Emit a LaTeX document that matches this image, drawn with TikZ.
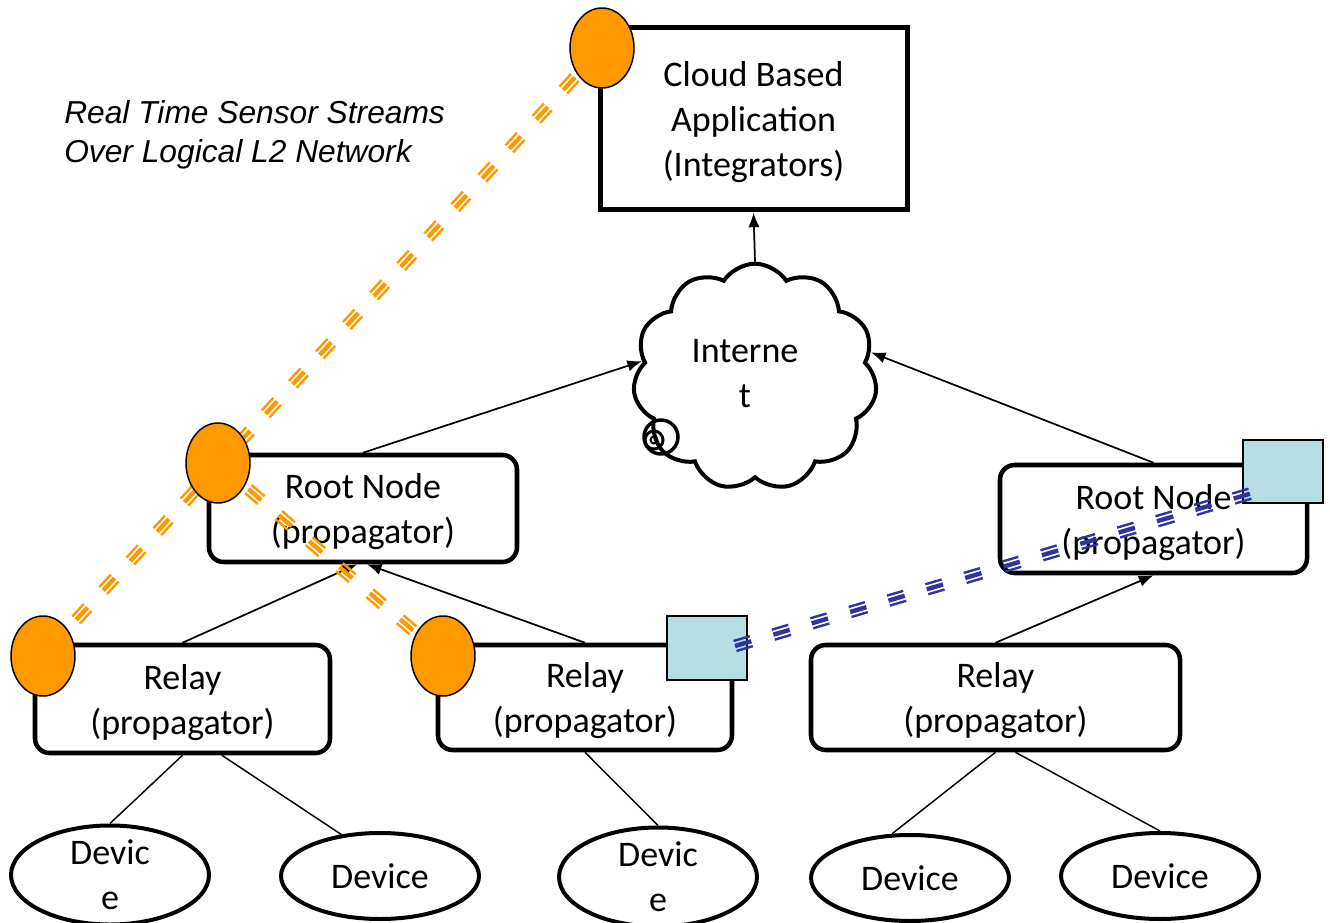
\documentclass[tikz,border=0pt]{standalone}
\usepackage{fontspec}
\setmainfont{Carlito}
\newfontfamily\arialfam{Liberation Sans}
\usetikzlibrary{shapes.geometric,shapes.symbols,arrows.meta,calc}
\definecolor{orng}{RGB}{255,153,0}
\definecolor{indig}{RGB}{51,51,160}
\definecolor{tealsq}{RGB}{183,222,226}
\newcommand\mytxt{\fontsize{27}{33.75}\selectfont}
% triple striped dashed line: colour, from, to
\newcommand\tripleline[3]{%
  \draw[stripe, #1, line width=3.3pt] (#2) -- (#3);
  \foreach \o in {-3.9pt,3.9pt}{%
    \draw[stripe, #1, line width=1.8pt] ($(#2)!\o!90:(#3)$) -- ($(#3)!\o!-90:(#2)$);}}
% box with its text set a little lower
\newcommand\txtbox[6]{%
  \node[#1, minimum width=#4, minimum height=#5] (#2) at (#3) {};
  \node[txt] (#2t) at ([yshift=-2.4pt]#2.center) {#6};}
\begin{document}
\begin{tikzpicture}[x=0.75pt,y=-0.75pt,
  txt/.style={inner sep=0pt, align=center, font=\mytxt},
  appbox/.style={draw, line width=3.75pt, inner sep=0pt},
  rbox/.style={draw, line width=3.4pt, rounded corners=11pt, inner sep=0pt},
  dev/.style={ellipse, draw, line width=3pt, minimum width=148.5pt, minimum height=64.5pt, inner sep=0pt, align=center, font=\mytxt},
  oc/.style={ellipse, draw, line width=1.1pt, fill=orng, minimum width=48pt, minimum height=60pt, inner sep=0pt},
  sqr/.style={rectangle, draw, line width=1.1pt, fill=tealsq, minimum width=60pt, minimum height=48pt, inner sep=0pt},
  arr/.style={line width=1.3pt, -{Latex[length=11pt,width=8.5pt]}},
  ln/.style={line width=1.1pt},
  stripe/.style={dash pattern=on 12.75pt off 17.25pt},
]
\fill[white] (0,0) rectangle (1330,923);
\useasboundingbox (0,0) rectangle (1330,923);

\txtbox{appbox}{app}{753.5,119}{230.25pt}{136.5pt}{Cloud Based\\Application\\(Integrators)}
\node[cloud, draw, line width=3pt, cloud puffs=11, cloud puff arc=115, cloud ignores aspect,
      minimum width=183pt, minimum height=170pt, inner sep=0pt] (cloud) at (755,377) {};
\node[txt] (cloudt) at (745,374) {Interne\\t};
\draw[line width=2.6pt] (661,437) circle (17);
\draw[line width=2.2pt] (654,440) circle (9);
\draw[line width=1.5pt] (654,440) circle (3.5);

\txtbox{rbox}{root1}{363,508.5}{231pt}{80.25pt}{Root Node\\(propagator)}
\txtbox{rbox}{root2}{1153.5,519}{230.25pt}{81pt}{Root Node\\(propagator)}
\txtbox{rbox}{relay1}{182.5,699}{221.25pt}{81pt}{Relay\\(propagator)}
\txtbox{rbox}{relay2}{585,697.5}{220.5pt}{78.75pt}{Relay\\(propagator)}
\txtbox{rbox}{relay3}{995.5,697.5}{276.75pt}{78.75pt}{Relay\\(propagator)}

\node[dev] (d1) at (110,875) {Devic\\e};
\node[dev] (d2) at (380,876) {Device};
\node[dev] (d3) at (658,877) {Devic\\e};
\node[dev] (d4) at (910,878) {Device};
\node[dev] (d5) at (1160,876) {Device};

\draw[arr] (cloud.north) -- (app.south);
\draw[arr] (root1.north) -- (cloud.172);
\draw[arr] (root2.north) -- (cloud.12);
\draw[arr] (relay1.north) -- (root1.264);
\draw[arr] (relay2.north) -- (root1.274);
\draw[arr] (relay3.north) -- (root2.south);

\draw[ln] (relay1.south) -- (d1.north);
\draw[ln] (relay1.305) -- (d2.133);
\draw[ln] (relay2.south) -- (d3.north);
\draw[ln] (relay3.south) -- (d4.112);
\draw[ln] (relay3.290) -- (d5.north);

\node[font=\arialfam\itshape\fontsize{23.8}{29.25}\selectfont, align=left, anchor=west, inner sep=0pt] (lbl) at (64,135)
  {Real Time Sensor Streams\\Over Logical L2 Network};

\coordinate (oc1c) at (602,48);
\coordinate (oc2c) at (218,463);
\coordinate (oc3c) at (43,656);
\coordinate (oc4c) at (443,656);
\tripleline{orng}{oc1c}{oc3c}
\tripleline{orng}{oc2c}{oc4c}

\node[oc] (oc1) at (oc1c) {};
\node[oc] (oc2) at (oc2c) {};
\node[oc] (oc3) at (oc3c) {};
\node[oc] (oc4) at (oc4c) {};

\node[sqr] (sq1) at (707,648) {};
\node[sqr, minimum height=47.25pt] (sq2) at (1283,471.5) {};
\coordinate (b1) at (735,646);
\coordinate (b2) at (1266,489);
\tripleline{indig}{b1}{b2}
\end{tikzpicture}
\end{document}
